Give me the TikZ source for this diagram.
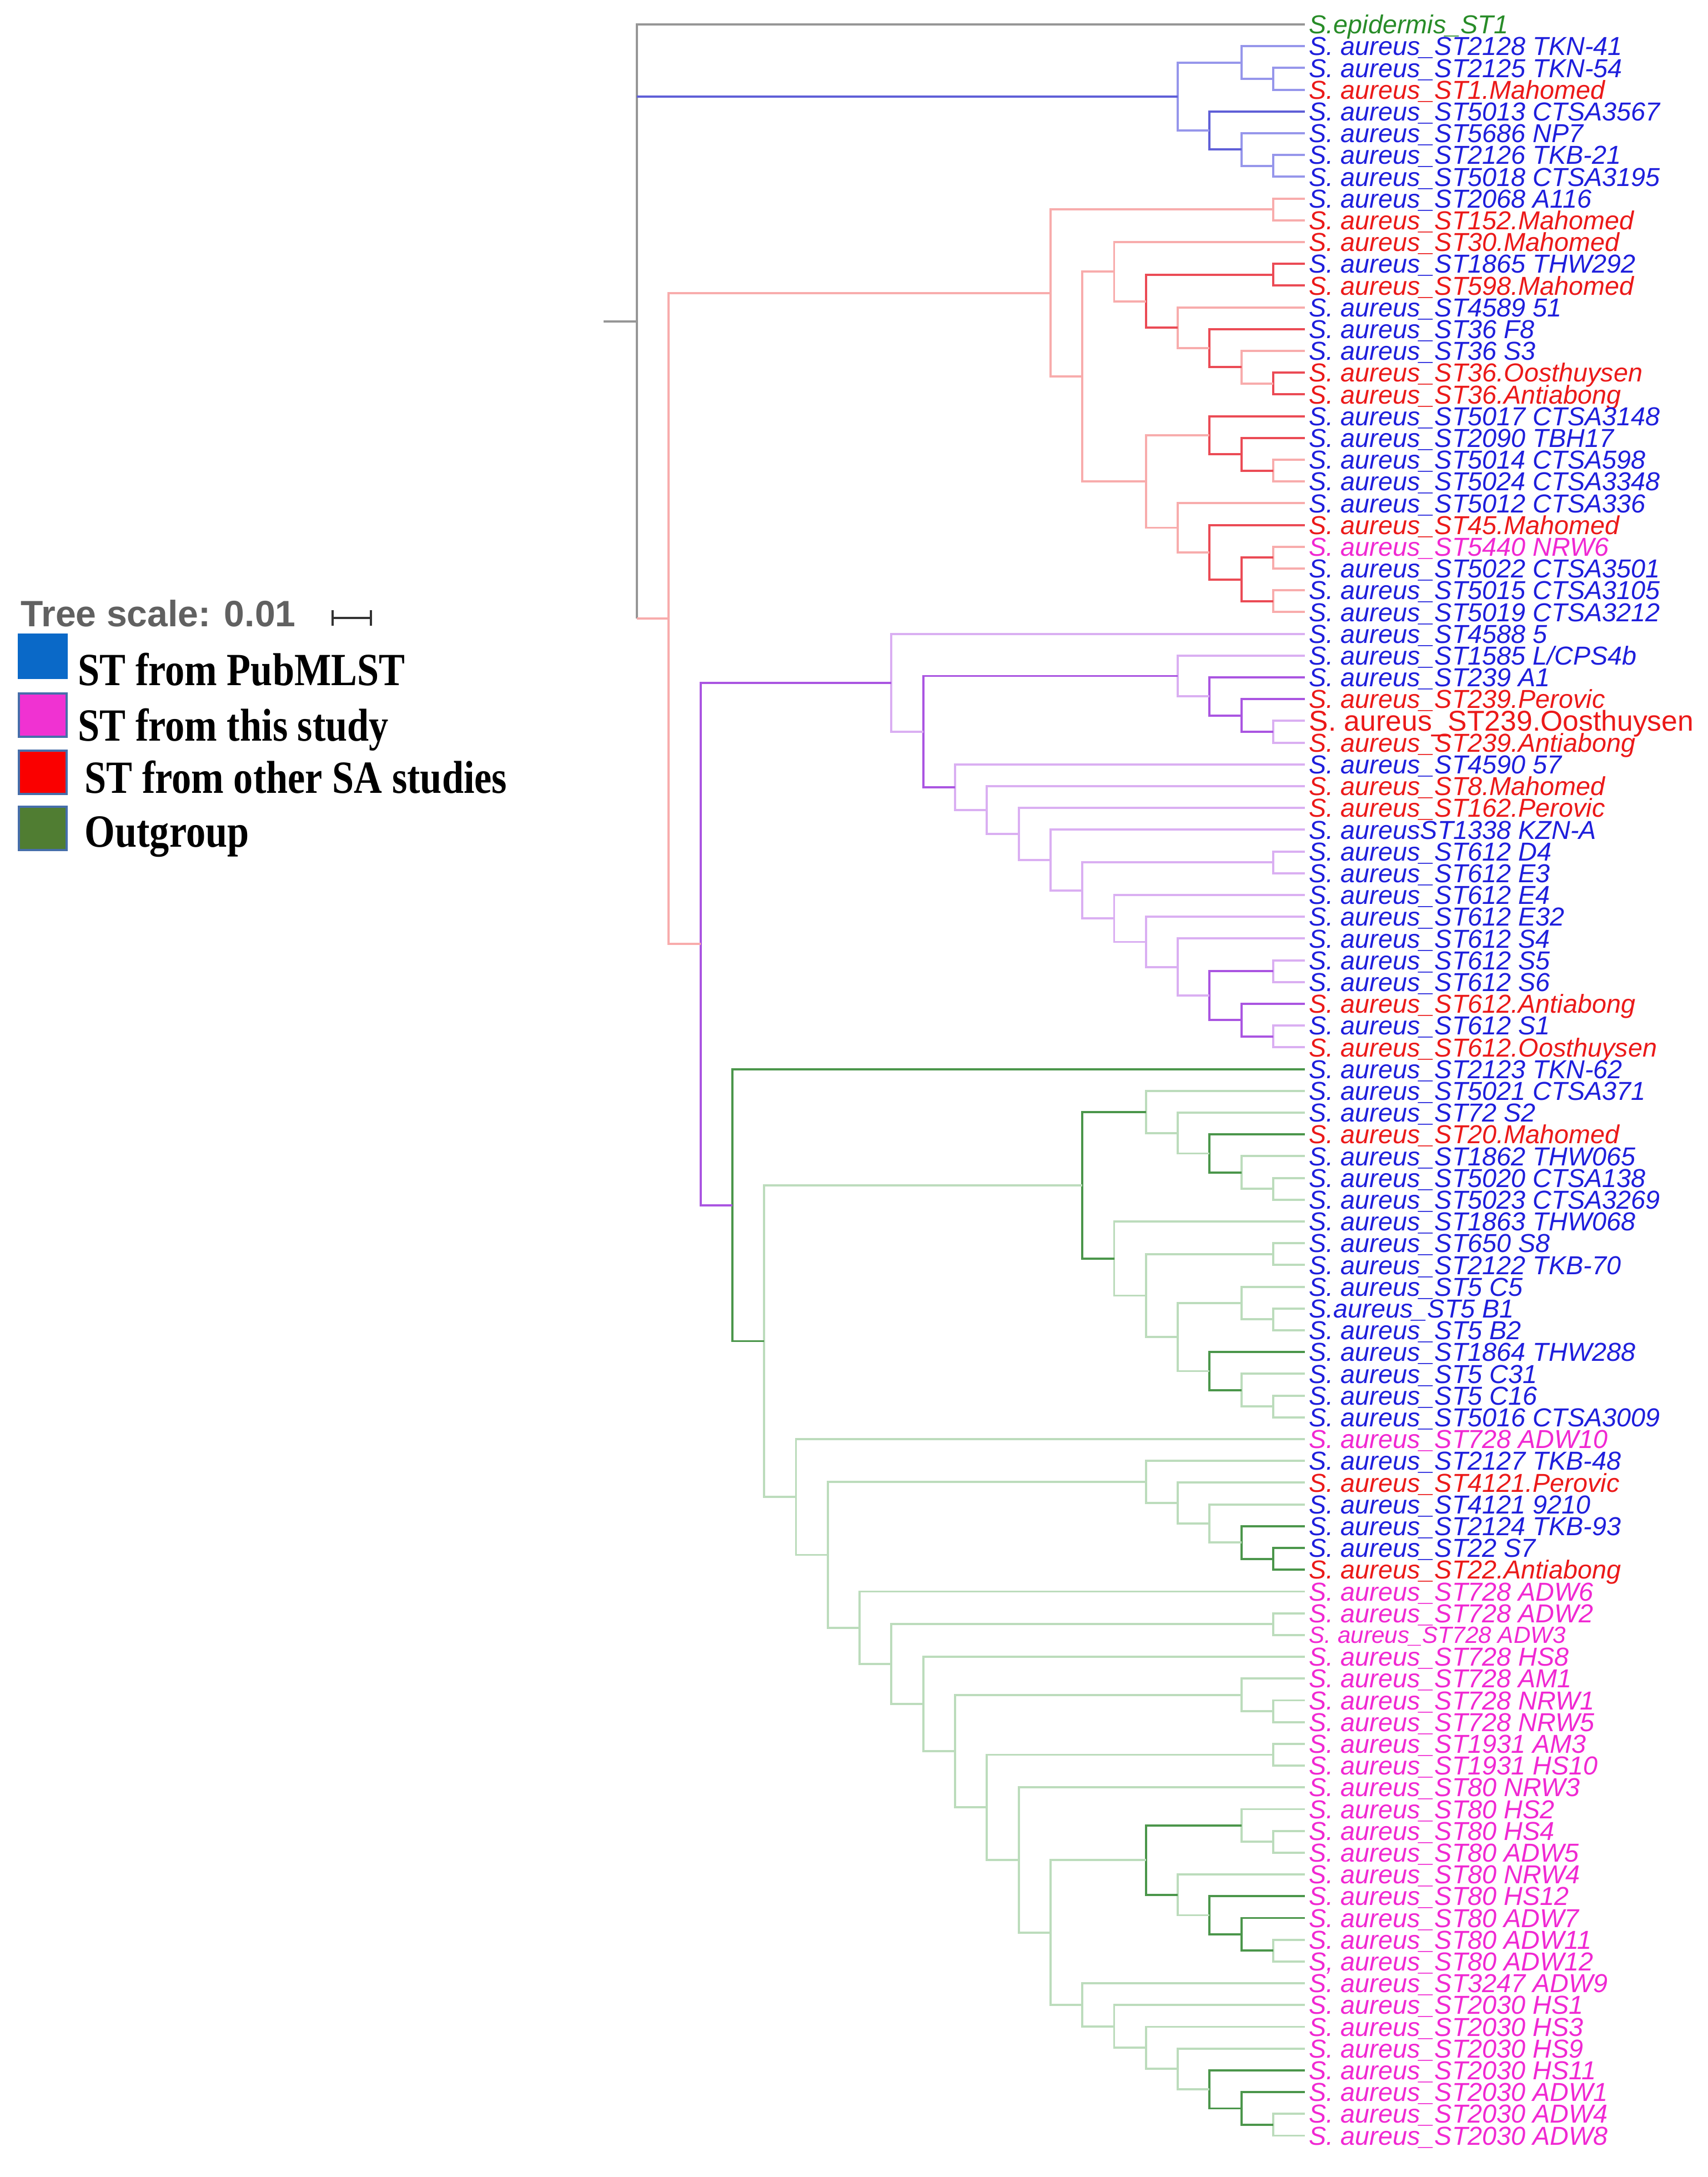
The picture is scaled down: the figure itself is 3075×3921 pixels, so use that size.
\documentclass[tikz,border=0pt]{standalone}
\usepackage{fontspec}
\setmainfont{Liberation Sans}
\newfontfamily\legendfont{Liberation Serif}
\usepackage{xcolor}
\usepackage{graphicx}
\usepackage{tikz}
\usetikzlibrary{calc, arrows.meta}

% branch colours
\definecolor{rootbr}{RGB}{150,150,150}
\definecolor{bluebr}{RGB}{150,150,235}
\definecolor{bluedk}{RGB}{95,95,215}
\definecolor{redbr}{RGB}{248,172,172}
\definecolor{reddk}{RGB}{235,75,85}
\definecolor{purbr}{RGB}{218,175,242}
\definecolor{purdk}{RGB}{170,85,225}
\definecolor{grnbr}{RGB}{188,220,188}
\definecolor{grndk}{RGB}{75,150,75}
% label colours
\definecolor{pubcol}{RGB}{30,30,220}
\definecolor{thiscol}{RGB}{240,40,210}
\definecolor{othercol}{RGB}{235,25,25}
\definecolor{outcol}{RGB}{40,140,40}
% legend colours
\definecolor{legpub}{RGB}{10,105,200}
\definecolor{legthis}{RGB}{240,50,210}
\definecolor{legother}{RGB}{250,0,0}
\definecolor{legout}{RGB}{80,125,50}
\definecolor{legedge}{RGB}{70,110,170}

% clade: [style]{name}{level}{first child}{last child}
\newcommand{\clade}[5][]{%
  \path let \p1=(#4), \p2=(#5), \p3=({1147+#3*57.3},0) in
    coordinate (#2) at (\x3,{0.5*\y1+0.5*\y2});
  \draw[branch,#1] (#2) |- (#4);
  \draw[branch,#1] (#2) |- (#5);
}
% taller legend lettering
\newcommand{\legtall}[1]{\scalebox{1}[1.18]{#1}}

\begin{document}
\begin{tikzpicture}[
  x=0.01cm, y=-0.01cm,
  branch/.style={line width=1.1pt},
  leaf/.style={anchor=west, inner xsep=2pt, inner ysep=0pt,
    text height=9.5pt, text depth=0pt,
    font=\itshape\fontsize{13.3}{15}\selectfont},
  pub/.style={text=pubcol},
  this/.style={text=thiscol},
  other/.style={text=othercol},
  outg/.style={text=outcol},
  otherbig/.style={text=othercol, text height=10.5pt,
    font=\upshape\fontsize{14.7}{17}\selectfont},
  thissmall/.style={text=thiscol, text height=8.6pt,
    font=\itshape\fontsize{12}{14}\selectfont},
  legbox/.style={draw=legedge, line width=1.2pt, minimum width=0.86cm,
    minimum height=0.78cm, inner sep=0pt},
  legtext/.style={anchor=base west, inner sep=0pt,
    font=\legendfont\bfseries\fontsize{20}{24}\selectfont}
]
\useasboundingbox (0,0) rectangle (3075,3921);

% Leaf labels
\foreach \sty/\lab [count=\i] in {
  outg/{S.epidermis\_ST1},
  pub/{S. aureus\_ST2128 TKN-41},
  pub/{S. aureus\_ST2125 TKN-54},
  other/{S. aureus\_ST1.Mahomed},
  pub/{S. aureus\_ST5013 CTSA3567},
  pub/{S. aureus\_ST5686 NP7},
  pub/{S. aureus\_ST2126 TKB-21},
  pub/{S. aureus\_ST5018 CTSA3195},
  pub/{S. aureus\_ST2068 A116},
  other/{S. aureus\_ST152.Mahomed},
  other/{S. aureus\_ST30.Mahomed},
  pub/{S. aureus\_ST1865 THW292},
  other/{S. aureus\_ST598.Mahomed},
  pub/{S. aureus\_ST4589 51},
  pub/{S. aureus\_ST36 F8},
  pub/{S. aureus\_ST36 S3},
  other/{S. aureus\_ST36.Oosthuysen},
  other/{S. aureus\_ST36.Antiabong},
  pub/{S. aureus\_ST5017 CTSA3148},
  pub/{S. aureus\_ST2090 TBH17},
  pub/{S. aureus\_ST5014 CTSA598},
  pub/{S. aureus\_ST5024 CTSA3348},
  pub/{S. aureus\_ST5012 CTSA336},
  other/{S. aureus\_ST45.Mahomed},
  this/{S. aureus\_ST5440 NRW6},
  pub/{S. aureus\_ST5022 CTSA3501},
  pub/{S. aureus\_ST5015 CTSA3105},
  pub/{S. aureus\_ST5019 CTSA3212},
  pub/{S. aureus\_ST4588 5},
  pub/{S. aureus\_ST1585 L/CPS4b},
  pub/{S. aureus\_ST239 A1},
  other/{S. aureus\_ST239.Perovic},
  otherbig/{S. aureus\_ST239.Oosthuysen},
  other/{S. aureus\_ST239.Antiabong},
  pub/{S. aureus\_ST4590 57},
  other/{S. aureus\_ST8.Mahomed},
  other/{S. aureus\_ST162.Perovic},
  pub/{S. aureusST1338 KZN-A},
  pub/{S. aureus\_ST612 D4},
  pub/{S. aureus\_ST612 E3},
  pub/{S. aureus\_ST612 E4},
  pub/{S. aureus\_ST612 E32},
  pub/{S. aureus\_ST612 S4},
  pub/{S. aureus\_ST612 S5},
  pub/{S. aureus\_ST612 S6},
  other/{S. aureus\_ST612.Antiabong},
  pub/{S. aureus\_ST612 S1},
  other/{S. aureus\_ST612.Oosthuysen},
  pub/{S. aureus\_ST2123 TKN-62},
  pub/{S. aureus\_ST5021 CTSA371},
  pub/{S. aureus\_ST72 S2},
  other/{S. aureus\_ST20.Mahomed},
  pub/{S. aureus\_ST1862 THW065},
  pub/{S. aureus\_ST5020 CTSA138},
  pub/{S. aureus\_ST5023 CTSA3269},
  pub/{S. aureus\_ST1863 THW068},
  pub/{S. aureus\_ST650 S8},
  pub/{S. aureus\_ST2122 TKB-70},
  pub/{S. aureus\_ST5 C5},
  pub/{S.aureus\_ST5 B1},
  pub/{S. aureus\_ST5 B2},
  pub/{S. aureus\_ST1864 THW288},
  pub/{S. aureus\_ST5 C31},
  pub/{S. aureus\_ST5 C16},
  pub/{S. aureus\_ST5016 CTSA3009},
  this/{S. aureus\_ST728 ADW10},
  pub/{S. aureus\_ST2127 TKB-48},
  other/{S. aureus\_ST4121.Perovic},
  pub/{S. aureus\_ST4121 9210},
  pub/{S. aureus\_ST2124 TKB-93},
  pub/{S. aureus\_ST22 S7},
  other/{S. aureus\_ST22.Antiabong},
  this/{S. aureus\_ST728 ADW6},
  this/{S. aureus\_ST728 ADW2},
  thissmall/{S. aureus\_ST728 ADW3},
  this/{S. aureus\_ST728 HS8},
  this/{S. aureus\_ST728 AM1},
  this/{S. aureus\_ST728 NRW1},
  this/{S. aureus\_ST728 NRW5},
  this/{S. aureus\_ST1931 AM3},
  this/{S. aureus\_ST1931 HS10},
  this/{S. aureus\_ST80 NRW3},
  this/{S. aureus\_ST80 HS2},
  this/{S. aureus\_ST80 HS4},
  this/{S. aureus\_ST80 ADW5},
  this/{S. aureus\_ST80 NRW4},
  this/{S. aureus\_ST80 HS12},
  this/{S. aureus\_ST80 ADW7},
  this/{S. aureus\_ST80 ADW11},
  this/{S, aureus\_ST80 ADW12},
  this/{S. aureus\_ST3247 ADW9},
  this/{S. aureus\_ST2030 HS1},
  this/{S. aureus\_ST2030 HS3},
  this/{S. aureus\_ST2030 HS9},
  this/{S. aureus\_ST2030 HS11},
  this/{S. aureus\_ST2030 ADW1},
  this/{S. aureus\_ST2030 ADW4},
  this/{S. aureus\_ST2030 ADW8}}
  \node[leaf,\sty] (l\i) at (2350,{4.8+\i*39.2}) {\lab};

% Blue clade
\clade[bluebr]{bl3}{20}{l3}{l4}
\clade[bluebr]{bl2}{19}{l2}{bl3}
\clade[bluebr]{bl7}{20}{l7}{l8}
\clade[bluebr]{bl6}{19}{l6}{bl7}
\clade[bluedk]{bl5}{18}{l5}{bl6}
\clade[bluebr]{blue}{17}{bl2}{bl5}

% Red clade
\clade[redbr]{rd1}{20}{l9}{l10}
\clade[reddk]{rd6}{20}{l12}{l13}
\clade[reddk]{rd10}{20}{l17}{l18}
\clade[redbr]{rd9}{19}{l16}{rd10}
\clade[reddk]{rd8}{18}{l15}{rd9}
\clade[redbr]{rd7}{17}{l14}{rd8}
\clade[reddk]{rd5}{16}{rd6}{rd7}
\clade[redbr]{rd3}{15}{l11}{rd5}
\clade[redbr]{rd14}{20}{l21}{l22}
\clade[reddk]{rd13}{19}{l20}{rd14}
\clade[reddk]{rd11}{18}{l19}{rd13}
\clade[redbr]{rd17}{20}{l25}{l26}
\clade[redbr]{rd18}{20}{l27}{l28}
\clade[reddk]{rd16}{19}{rd17}{rd18}
\clade[reddk]{rd15}{18}{l24}{rd16}
\clade[redbr]{rd12}{17}{l23}{rd15}
\clade[redbr]{rd4}{16}{rd11}{rd12}
\clade[redbr]{rd2}{14}{rd3}{rd4}
\clade[redbr]{red}{13}{rd1}{rd2}

% Purple clade
\clade[purbr]{pu6}{20}{l33}{l34}
\clade[purdk]{pu5}{19}{l32}{pu6}
\clade[purdk]{pu4}{18}{l31}{pu5}
\clade[purbr]{pu2}{17}{l30}{pu4}
\clade[purbr]{pu18}{20}{l47}{l48}
\clade[purdk]{pu17}{19}{l46}{pu18}
\clade[purbr]{pu16}{20}{l44}{l45}
\clade[purdk]{pu15}{18}{pu16}{pu17}
\clade[purbr]{pu14}{17}{l43}{pu15}
\clade[purbr]{pu13}{16}{l42}{pu14}
\clade[purbr]{pu12}{15}{l41}{pu13}
\clade[purbr]{pu11}{20}{l39}{l40}
\clade[purbr]{pu10}{14}{pu11}{pu12}
\clade[purbr]{pu9}{13}{l38}{pu10}
\clade[purbr]{pu8}{12}{l37}{pu9}
\clade[purbr]{pu7}{11}{l36}{pu8}
\clade[purbr]{pu3}{10}{l35}{pu7}
\clade[purdk]{pu1}{9}{pu2}{pu3}
\clade[purbr]{purple}{8}{l29}{pu1}

% Green clade
\clade[grnbr]{gr9}{20}{l54}{l55}
\clade[grnbr]{gr8}{19}{l53}{gr9}
\clade[grndk]{gr7}{18}{l52}{gr8}
\clade[grnbr]{gr6}{17}{l51}{gr7}
\clade[grnbr]{gr4}{16}{l50}{gr6}
\clade[grnbr]{gr11}{20}{l57}{l58}
\clade[grnbr]{gr15}{20}{l60}{l61}
\clade[grnbr]{gr13}{19}{l59}{gr15}
\clade[grnbr]{gr17}{20}{l64}{l65}
\clade[grnbr]{gr16}{19}{l63}{gr17}
\clade[grndk]{gr14}{18}{l62}{gr16}
\clade[grnbr]{gr12}{17}{gr13}{gr14}
\clade[grnbr]{gr10}{16}{gr11}{gr12}
\clade[grnbr]{gr5}{15}{l56}{gr10}
\clade[grndk]{gr2}{14}{gr4}{gr5}
\clade[grndk]{gr24}{20}{l71}{l72}
\clade[grndk]{gr23}{19}{l70}{gr24}
\clade[grnbr]{gr22}{18}{l69}{gr23}
\clade[grnbr]{gr21}{17}{l68}{gr22}
\clade[grnbr]{gr19}{16}{l67}{gr21}
\clade[grnbr]{gr26}{20}{l74}{l75}
\clade[grnbr]{gr31}{20}{l78}{l79}
\clade[grnbr]{gr29}{19}{l77}{gr31}
\clade[grnbr]{gr32}{20}{l80}{l81}
\clade[grnbr]{gr39}{20}{l84}{l85}
\clade[grnbr]{gr37}{19}{l83}{gr39}
\clade[grnbr]{gr42}{20}{l89}{l90}
\clade[grndk]{gr41}{19}{l88}{gr42}
\clade[grndk]{gr40}{18}{l87}{gr41}
\clade[grnbr]{gr38}{17}{l86}{gr40}
\clade[grndk]{gr35}{16}{gr37}{gr38}
\clade[grnbr]{gr48}{20}{l97}{l98}
\clade[grndk]{gr47}{19}{l96}{gr48}
\clade[grndk]{gr46}{18}{l95}{gr47}
\clade[grnbr]{gr45}{17}{l94}{gr46}
\clade[grnbr]{gr44}{16}{l93}{gr45}
\clade[grnbr]{gr43}{15}{l92}{gr44}
\clade[grnbr]{gr36}{14}{l91}{gr43}
\clade[grnbr]{gr34}{13}{gr35}{gr36}
\clade[grnbr]{gr33}{12}{l82}{gr34}
\clade[grnbr]{gr30}{11}{gr32}{gr33}
\clade[grnbr]{gr28}{10}{gr29}{gr30}
\clade[grnbr]{gr27}{9}{l76}{gr28}
\clade[grnbr]{gr25}{8}{gr26}{gr27}
\clade[grnbr]{gr20}{7}{l73}{gr25}
\clade[grnbr]{gr18}{6}{gr19}{gr20}
\clade[grnbr]{gr3}{5}{l66}{gr18}
\clade[grnbr]{gr1}{4}{gr2}{gr3}
\clade[grndk]{green}{3}{l49}{gr1}

% Backbone and root
\clade[purdk]{ingrp}{2}{purple}{green}
\clade[redbr]{aureus}{1}{red}{ingrp}
\path let \p1=(l1), \p2=(aureus), \p3=(1147,0) in
  coordinate (root) at (\x3,{0.5*\y1+0.5*\y2});
\coordinate (stub) at ([xshift=-0.6cm]root);
\draw[branch,rootbr] (stub) -- (root);
\draw[branch,rootbr] (root) |- (l1);
\draw[branch,rootbr] (root) -- (root |- aureus);
\draw[branch,bluedk] (root |- blue) -- (blue);
\draw[branch,redbr] (root |- aureus) -- (aureus);

% Tree scale
\node[anchor=base west, inner sep=0pt, text=black!62,
  font=\bfseries\fontsize{18.8}{22}\selectfont] (scaletxt) at (37,1128) {Tree scale: 0.01};
\coordinate (bar0) at (597,1113);
\coordinate (bar1) at (670,1113);
\draw[{Bar[width=8pt]}-{Bar[width=8pt]}, line width=1.1pt, black!80] (bar0) -- (bar1);

% Legend
\node[legbox, draw=legpub, fill=legpub] (sqpub) at (77,1182) {};
\node[legbox, fill=legthis] (sqthis) at (77,1288) {};
\node[legbox, fill=legother] (sqother) at (77,1391) {};
\node[legbox, fill=legout] (sqout) at (77,1492) {};
\node[legtext] (txtpub) at (140,1234) {\legtall{ST from PubMLST}};
\node[legtext] (txtthis) at (140,1334) {\legtall{ST from this study}};
\node[legtext] (txtother) at (152,1428) {\legtall{ST from other SA studies}};
\node[legtext] (txtout) at (152,1525) {\legtall{Outgroup}};
\end{tikzpicture}
\end{document}
